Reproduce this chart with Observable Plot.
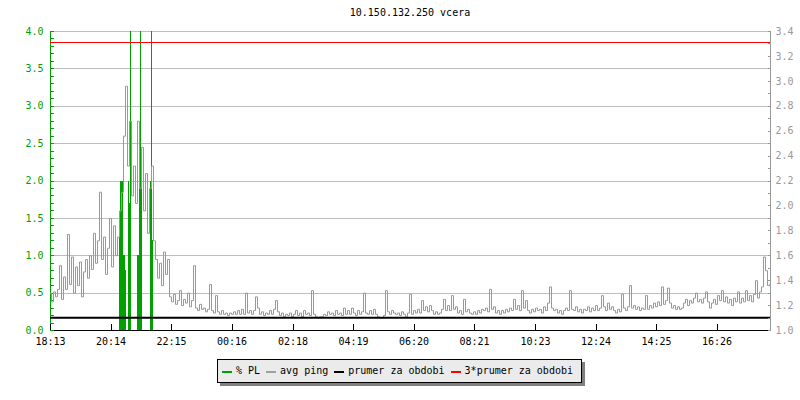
<!DOCTYPE html>
<html><head><meta charset="utf-8">
<script src="https://cdn.jsdelivr.net/npm/d3@7"></script>
<script src="https://cdn.jsdelivr.net/npm/@observablehq/plot@0.6"></script>
<style>
html,body{margin:0;padding:0;background:#fff;}
#chart{position:relative;width:800px;height:400px;font-family:"DejaVu Sans Mono",monospace;}
#chart svg{position:absolute;left:0;top:0;}
#title{position:absolute;top:7px;left:50px;width:720px;text-align:center;font-size:10px;line-height:12px;color:#000;}
#legend{position:absolute;left:217px;top:359px;width:365px;height:24px;box-sizing:border-box;border:1px solid #000;background:#ebebeb;box-shadow:3px 3px 0 #808080;display:flex;align-items:center;padding-left:4px;font-size:10px;line-height:22px;white-space:pre;}
.sw{display:inline-block;width:10px;height:2px;margin-right:4px;margin-top:2px;}
.lab{margin-right:6px;}
</style></head><body>
<div id="chart"><div id="title"></div><div id="legend"></div></div>
<script>
const titleText = "10.150.132.250 vcera";

// x axis: minutes since 18:13
const xDomain = [0, 1440];
const xTickMinutes = [0, 121, 242, 363, 485, 606, 727, 848, 970, 1091, 1212, 1333];
const xTickLabels = ["18:13","20:14","22:15","00:16","02:18","04:19","06:20","08:21","10:23","12:24","14:25","16:26"];

// left axis (% PL) and right axis (avg ping)
const leftTicks = [0.0, 0.5, 1.0, 1.5, 2.0, 2.5, 3.0, 3.5, 4.0];
const rightTicks = [1.0, 1.2, 1.4, 1.6, 1.8, 2.0, 2.2, 2.4, 2.6, 2.8, 3.0, 3.2, 3.4];

// series legend
const seriesNames = ["% PL", "avg ping", "prumer za obdobi", "3*prumer za obdobi"];
const seriesColors = ["#00a000", "#a0a0a0", "#000000", "#ff0000"];

// % packet loss (minute, value), 2-minute columns
const plStep = 2;
const plMinutes = [138, 140, 142, 144, 146, 148, 150, 156, 158, 160, 174, 176, 178, 180, 182, 200, 202, 204];
const plValues  = [1.3, 2.0, 2.0, 2.0, 1.0, 1.0, 0.8, 2.0, 1.7, 10, 1.0, 1.0, 2.3, 10, 2.3, 2.0, 10, 1.2];

// avg ping, every 4 minutes
const pingStep = 4;
const pingValues = [
1.30,1.23,1.31,1.27,1.33,1.52,1.25,1.43,1.33,1.77,
1.37,1.59,1.30,1.51,1.36,1.55,1.27,1.47,1.57,1.42,
1.60,1.49,1.78,1.54,1.72,2.11,1.57,1.75,1.45,1.66,
1.90,1.51,1.84,1.60,1.75,1.96,2.11,2.56,2.96,2.32,
2.68,2.08,2.32,2.02,2.68,2.14,2.47,1.96,2.26,1.78,
2.14,2.32,1.72,1.57,1.42,1.54,1.36,1.63,1.45,1.57,
1.27,1.23,1.29,1.21,1.24,1.32,1.20,1.25,1.22,1.30,
1.19,1.24,1.52,1.18,1.16,1.21,1.17,1.18,1.15,1.17,
1.37,1.16,1.14,1.28,1.15,1.13,1.16,1.13,1.14,1.12,
1.14,1.13,1.15,1.13,1.16,1.13,1.17,1.13,1.30,1.14,
1.16,1.13,1.16,1.27,1.18,1.13,1.15,1.12,1.14,1.13,
1.16,1.13,1.17,1.24,1.15,1.12,1.14,1.11,1.13,1.12,
1.14,1.11,1.13,1.16,1.12,1.14,1.11,1.16,1.13,1.14,
1.12,1.32,1.13,1.11,1.10,1.11,1.11,1.13,1.12,1.15,
1.13,1.14,1.12,1.16,1.13,1.14,1.12,1.18,1.13,1.16,
1.13,1.18,1.14,1.12,1.16,1.13,1.15,1.30,1.14,1.13,
1.16,1.13,1.17,1.13,1.11,1.10,1.10,1.12,1.32,1.15,
1.13,1.16,1.14,1.13,1.14,1.12,1.15,1.13,1.11,1.14,
1.29,1.13,1.16,1.14,1.17,1.14,1.24,1.16,1.19,1.15,
1.20,1.16,1.13,1.15,1.13,1.14,1.17,1.25,1.16,1.20,
1.16,1.28,1.17,1.19,1.14,1.16,1.13,1.25,1.15,1.17,
1.14,1.13,1.15,1.13,1.16,1.14,1.17,1.16,1.18,1.15,
1.33,1.17,1.19,1.14,1.16,1.13,1.16,1.14,1.17,1.15,
1.18,1.16,1.25,1.17,1.20,1.16,1.32,1.18,1.24,1.16,
1.14,1.17,1.15,1.18,1.16,1.17,1.14,1.19,1.16,1.22,
1.35,1.18,1.16,1.17,1.14,1.16,1.13,1.16,1.18,1.16,
1.32,1.17,1.16,1.19,1.15,1.17,1.14,1.17,1.16,1.19,
1.15,1.18,1.16,1.20,1.16,1.18,1.28,1.19,1.16,1.22,
1.17,1.19,1.16,1.14,1.17,1.15,1.29,1.18,1.16,1.19,
1.36,1.18,1.20,1.17,1.19,1.16,1.18,1.17,1.28,1.17,
1.20,1.18,1.22,1.19,1.23,1.20,1.35,1.21,1.24,1.34,
1.22,1.18,1.20,1.17,1.19,1.17,1.18,1.22,1.25,1.20,
1.24,1.22,1.26,1.30,1.23,1.25,1.22,1.26,1.31,1.23,
1.18,1.22,1.25,1.21,1.28,1.24,1.32,1.23,1.27,1.22,
1.25,1.20,1.26,1.23,1.31,1.22,1.26,1.23,1.32,1.24,
1.28,1.23,1.29,1.40,1.26,1.31,1.35,1.59,1.48,1.36,
1.37
];

const prumer = 1.103;     // average for the period
const triplePrumer = 3 * prumer;

// ---------- layout ----------
const W = 800, H = 352, mL = 50, mR = 30, mT = 31, mB = 22;
const GREEN = seriesColors[0], GRAY = "#999999", BLACK = seriesColors[2], RED = seriesColors[3];
const baseStyle = {fontFamily: "DejaVu Sans Mono", fontSize: "10px", background: "transparent", overflow: "visible"};

const plData = plMinutes.map((t, i) => ({t, v: plValues[i]}));
const pingData = pingValues.map((v, i) => ({t: i * pingStep, v}));
const leftMinor = d3.range(0, 41).map(d => d / 10);
const rightMinor = d3.range(10, 35).map(d => d / 10);

const A = Plot.plot({
  width: W, height: H, marginLeft: mL, marginRight: mR, marginTop: mT, marginBottom: mB,
  style: baseStyle,
  x: {domain: xDomain, axis: null},
  y: {domain: [0, 4], axis: null},
  marks: [
    Plot.ruleY(leftTicks.filter(d => d > 0), {stroke: "#bdbdbd", shapeRendering: "crispEdges"}),
    Plot.rectY(plData, {x1: "t", x2: d => d.t + plStep, y: "v", fill: GREEN, inset: 0, clip: true, shapeRendering: "crispEdges"}),
    Plot.ruleX([0], {y1: 0, y2: 4, stroke: GREEN, shapeRendering: "crispEdges"}),
    Plot.ruleY([0], {stroke: "#000", shapeRendering: "crispEdges"}),
    Plot.axisY(leftMinor, {anchor: "left", label: null, tickSize: 4, dx: 4, tickFormat: () => "", stroke: GREEN, shapeRendering: "crispEdges"}),
    Plot.axisY(leftTicks, {anchor: "left", label: null, tickSize: 0, tickPadding: 7, tickFormat: d3.format(".1f"), fill: GREEN}),
    Plot.axisX(xTickMinutes, {anchor: "bottom", label: null, tickSize: 6, dy: -6, tickFormat: () => "", stroke: "#000", shapeRendering: "crispEdges"}),
    Plot.axisX(xTickMinutes, {anchor: "bottom", label: null, tickSize: 0, tickPadding: 7, tickFormat: d => xTickLabels[xTickMinutes.indexOf(d)], fill: "#000"})
  ]
});

const B = Plot.plot({
  width: W, height: H, marginLeft: mL, marginRight: mR, marginTop: mT, marginBottom: mB,
  style: baseStyle,
  x: {domain: xDomain, axis: null},
  y: {domain: [1, 3.4], axis: null},
  marks: [
    Plot.line(pingData, {x: "t", y: "v", stroke: GRAY, strokeWidth: 1, curve: "step"}),
    Plot.ruleY([prumer], {stroke: BLACK, strokeWidth: 2}),
    Plot.ruleY([triplePrumer], {stroke: RED, strokeWidth: 1, shapeRendering: "crispEdges"}),
    Plot.ruleX([xDomain[1]], {y1: 1, y2: 3.4, stroke: GRAY, shapeRendering: "crispEdges"}),
    Plot.axisY(rightMinor, {anchor: "right", label: null, tickSize: 3, dx: -3, tickFormat: () => "", stroke: GRAY, shapeRendering: "crispEdges"}),
    Plot.axisY(rightTicks, {anchor: "right", label: null, tickSize: 0, tickPadding: 5, tickFormat: d3.format(".1f"), fill: GRAY})
  ]
});

const chart = document.getElementById("chart");
chart.appendChild(A);
chart.appendChild(B);
document.getElementById("title").textContent = titleText;

const legend = document.getElementById("legend");
seriesNames.forEach((name, i) => {
  const sw = document.createElement("span");
  sw.className = "sw";
  sw.style.background = seriesColors[i];
  const lab = document.createElement("span");
  lab.className = "lab";
  lab.textContent = name;
  legend.appendChild(sw);
  legend.appendChild(lab);
});
</script>
</body></html>
